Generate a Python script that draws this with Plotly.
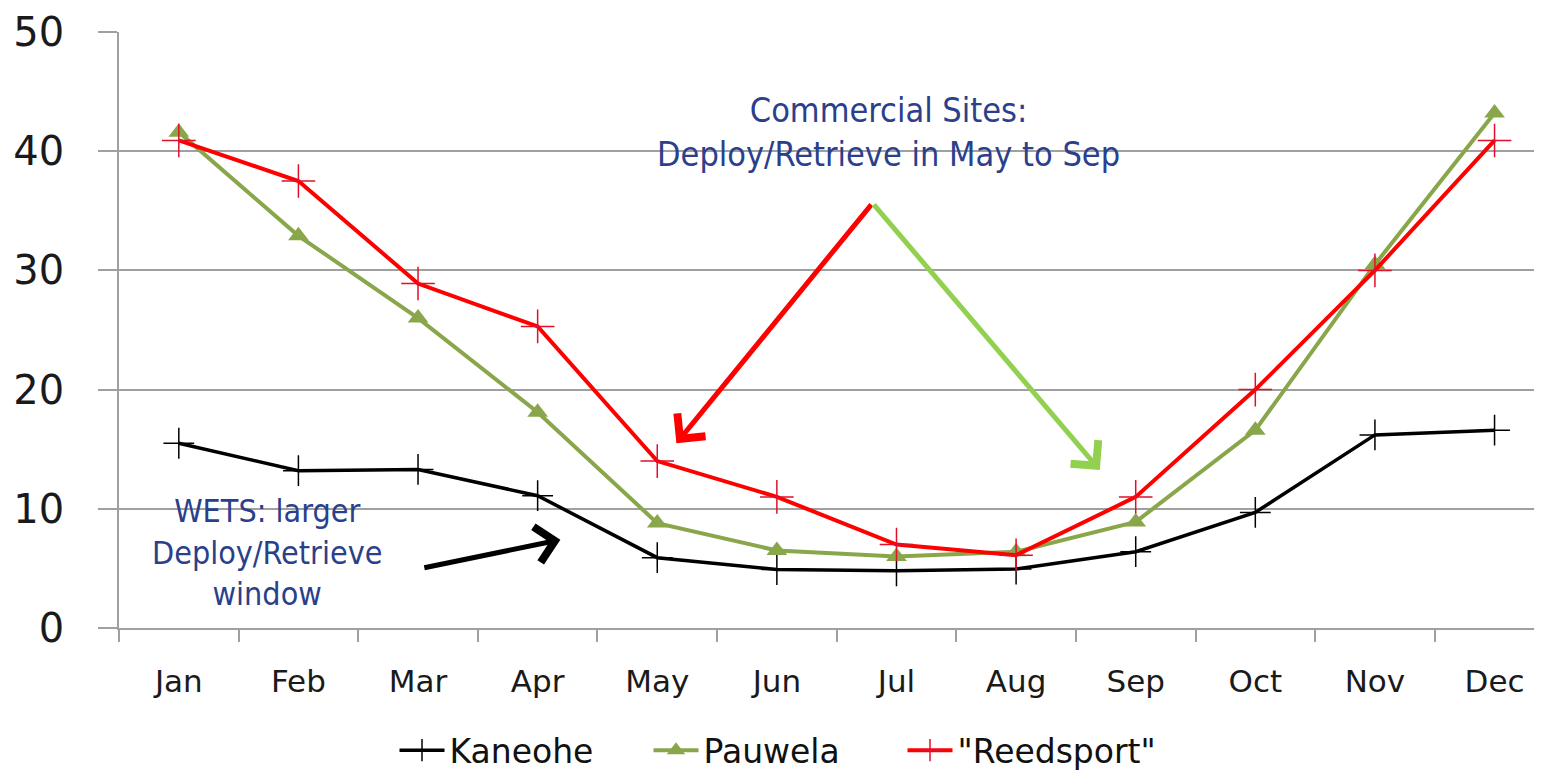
import plotly.graph_objects as go

months = ['Jan', 'Feb', 'Mar', 'Apr', 'May', 'Jun', 'Jul', 'Aug', 'Sep', 'Oct', 'Nov', 'Dec']
kaneohe = [15.5, 13.2, 13.3, 11.1, 5.9, 4.9, 4.8, 4.95, 6.4, 9.7, 16.2, 16.6]
pauwela = [41.6, 32.9, 26.0, 18.1, 8.8, 6.5, 6.0, 6.4, 8.9, 16.6, 30.5, 43.2]
reedsport = [40.9, 37.5, 28.9, 25.3, 14.0, 11.0, 7.0, 6.1, 11.0, 20.0, 30.0, 40.9]

navy = '#2B3F8C'
narrow = 'DejaVu Sans Condensed, sans-serif'

fig = go.Figure()
fig.add_trace(go.Scatter(
    x=months, y=kaneohe, name='Kaneohe', mode='lines+markers',
    line=dict(color='black', width=3.5),
    marker=dict(symbol='cross-thin', size=22, line=dict(color='black', width=1.5))
))
fig.add_trace(go.Scatter(
    x=months, y=pauwela, name='Pauwela', mode='lines+markers',
    line=dict(color='#8AA64A', width=4),
    marker=dict(symbol='triangle-up', size=18, color='#8AA64A')
))
fig.add_trace(go.Scatter(
    x=months, y=reedsport, name='"Reedsport"', mode='lines+markers',
    line=dict(color='#FF0000', width=4),
    marker=dict(symbol='cross-thin', size=24, line=dict(color='#E0102A', width=1.5))
))

# text boxes
fig.add_annotation(x=5.93, y=41.6, xref='x', yref='y', showarrow=False,
                   text='Commercial Sites:<br>Deploy/Retrieve in May to Sep',
                   font=dict(family=narrow, size=34, color=navy))
fig.add_annotation(x=0.74, y=6.3, xref='x', yref='y', showarrow=False,
                   text='WETS: larger<br>Deploy/Retrieve<br>window',
                   font=dict(family=narrow, size=32, color=navy))

# arrows
arrows = [
    (4.16, 15.5, 5.80, 35.65, '#FF0000'),
    (7.70, 13.25, 5.80, 35.65, '#92D050'),
    (3.19, 7.4, 2.04, 5.03, 'black'),
]
for tx, ty, sx, sy, c in arrows:
    fig.add_annotation(x=tx, y=ty, ax=sx, ay=sy, xref='x', yref='y', axref='x', ayref='y',
                       text='', showarrow=True, arrowhead=4, arrowsize=1.4,
                       arrowwidth=5, arrowcolor=c)

# page body adds 8px around the figure
fig.update_layout(
    width=1534, height=762,
    margin=dict(l=111, r=2, t=24, b=142, autoexpand=False),
    plot_bgcolor='white', paper_bgcolor='white',
    font=dict(family='DejaVu Sans', color='#1a1a1a'),
    showlegend=True,
    legend=dict(orientation='h', x=0.462, xanchor='center', y=-0.205, yanchor='middle',
                font=dict(family='DejaVu Sans', size=33, color='#111'),
                itemwidth=45, entrywidth=194, tracegroupgap=0),
)
fig.update_xaxes(
    type='category', range=[-0.5, 11.38], automargin=False,
    showgrid=False, showline=True, linecolor='#A0A0A0', linewidth=1.5,
    ticks='outside', tickson='boundaries', ticklen=12, tickcolor='#A0A0A0', tickwidth=1.5,
    ticklabelstandoff=25, tickfont=dict(size=31, color='#1a1a1a')
)
fig.update_yaxes(
    range=[0, 50], dtick=10, automargin=False,
    showgrid=True, gridcolor='#A0A0A0', gridwidth=1.5,
    showline=True, linecolor='#A0A0A0', linewidth=1.5, zeroline=False,
    ticks='outside', ticklen=19, tickcolor='#A0A0A0', tickwidth=1.5,
    ticklabelstandoff=26, tickfont=dict(size=40, color='#1a1a1a')
)

fig.write_html('out.html')
